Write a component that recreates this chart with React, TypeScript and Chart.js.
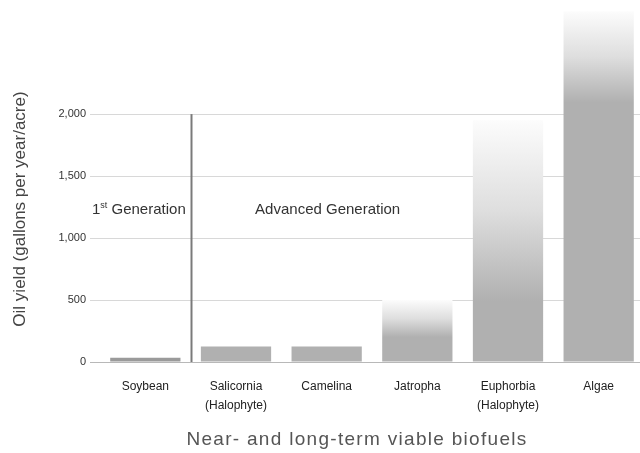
import React, { useEffect, useRef } from 'react';
import { Chart, registerables } from 'chart.js';

Chart.register(...registerables);

// ---- data ----
const categories: string[][] = [
  ['Soybean'],
  ['Salicornia', '(Halophyte)'],
  ['Camelina'],
  ['Jatropha'],
  ['Euphorbia', '(Halophyte)'],
  ['Algae'],
];
const oilYield = [35, 125, 125, 500, 1950, 2830];
const yTicks = [0, 500, 1000, 1500, 2000];
const yMax = 2835;
const dividerTopValue = 2000;
const yTitle = 'Oil yield (gallons per year/acre)';
const xTitle = 'Near- and long-term viable biofuels';
const firstGenParts = ['1', 'st', ' Generation'];
const advancedGenLabel = 'Advanced Generation';

// ---- styles ----
const FONT = "'Liberation Sans', Arial, sans-serif";
const barGray = '#b0b0b0';
const soyGray = '#9a9a9a';
const fadeFraction = [0, 0, 0, 0.6, 0.75, 0.26];

const annotationPlugin = {
  id: 'biofuelAnnotations',
  afterDatasetsDraw(chart: any) {
    const { ctx, scales, chartArea } = chart;
    const x = scales.x;
    const y = scales.y;
    ctx.save();
    // divider between 1st generation and advanced
    const xd = Math.round((x.getPixelForTick(0) + x.getPixelForTick(1)) / 2) + 0.5;
    ctx.strokeStyle = '#7a7a7a';
    ctx.lineWidth = 2;
    ctx.beginPath();
    ctx.moveTo(xd, y.getPixelForValue(dividerTopValue));
    ctx.lineTo(xd, y.getPixelForValue(0));
    ctx.stroke();

    // 1st Generation
    ctx.fillStyle = '#333';
    ctx.textBaseline = 'alphabetic';
    ctx.textAlign = 'left';
    let tx = chartArea.left - 8;
    const by = 214;
    ctx.font = `15px ${FONT}`;
    ctx.fillText(firstGenParts[0], tx, by);
    tx += ctx.measureText(firstGenParts[0]).width;
    ctx.font = `9px ${FONT}`;
    ctx.fillText(firstGenParts[1], tx, by - 6);
    tx += ctx.measureText(firstGenParts[1]).width;
    ctx.font = `15px ${FONT}`;
    ctx.fillText(firstGenParts[2], tx, by);

    // Advanced Generation
    ctx.textAlign = 'center';
    ctx.fillText(advancedGenLabel, x.getPixelForTick(2) + 1, by);

    // y title
    ctx.save();
    ctx.translate(20, 209);
    ctx.rotate(-Math.PI / 2);
    ctx.font = `17px ${FONT}`;
    ctx.fillStyle = '#444';
    ctx.textAlign = 'center';
    ctx.textBaseline = 'middle';
    ctx.fillText(yTitle, 0, 0);
    ctx.restore();

    // x title
    ctx.font = `19px ${FONT}`;
    (ctx as any).letterSpacing = '1.3px';
    ctx.fillStyle = '#555';
    ctx.textAlign = 'center';
    ctx.textBaseline = 'middle';
    ctx.fillText(xTitle, 357, 440);
    ctx.restore();
  },
};

export default function App() {
  const canvasRef = useRef<HTMLCanvasElement | null>(null);

  useEffect(() => {
    document.body.style.margin = '0';
    document.body.style.overflow = 'hidden';
    const canvas = canvasRef.current;
    if (!canvas) return;
    const chart = new Chart(canvas, {
      type: 'bar',
      data: {
        labels: categories,
        datasets: [
          {
            data: oilYield,
            barPercentage: 0.775,
            categoryPercentage: 1,
            borderWidth: 0,
            backgroundColor: (c: any) => {
              const i = c.dataIndex;
              const base = i === 0 ? soyGray : barGray;
              const f = fadeFraction[i];
              const ch = c.chart;
              if (!f || !ch.chartArea || !ch.scales || !ch.scales.y) return base;
              const ys = ch.scales.y;
              const top = ys.getPixelForValue(oilYield[i]);
              const bot = ys.getPixelForValue(0);
              const g = ch.ctx.createLinearGradient(0, top, 0, bot);
              g.addColorStop(0, '#fcfcfc');
              g.addColorStop(f * 0.5, '#dedede');
              g.addColorStop(f, base);
              g.addColorStop(1, base);
              return g;
            },
          },
        ],
      },
      options: {
        animation: false,
        responsive: false,
        devicePixelRatio: 1,
        layout: { padding: { top: 0, left: 0, right: 0, bottom: 0 } },
        plugins: {
          legend: { display: false },
          tooltip: { enabled: false },
          title: { display: false },
        },
        scales: {
          x: {
            grid: { display: false, drawTicks: false },
            border: { display: false },
            ticks: {
              padding: 15,
              color: '#222',
              maxRotation: 0,
              autoSkip: false,
              font: { family: FONT, size: 12, lineHeight: 1.6 },
            },
            afterFit: (s: any) => {
              s.height = 91;
            },
          },
          y: {
            min: 0,
            max: yMax,
            border: { display: false },
            afterBuildTicks: (s: any) => {
              s.ticks = yTicks.map((v) => ({ value: v }));
            },
            afterFit: (s: any) => {
              s.width = 100;
            },
            grid: {
              color: (c: any) => (c.tick && c.tick.value === 0 ? '#b8b8b8' : '#d8d8d8'),
              lineWidth: 1,
              tickLength: 10,
            },
            ticks: {
              padding: 4,
              color: '#333',
              font: { family: FONT, size: 11 },
              callback: (v: any) => Number(v).toLocaleString('en-US'),
            },
          },
        },
      },
      plugins: [annotationPlugin],
    });
    return () => chart.destroy();
  }, []);

  return (
    <div style={{ width: 640, height: 453, overflow: 'hidden', position: 'relative', background: '#fff' }}>
      <canvas ref={canvasRef} width={644} height={453} style={{ display: 'block' }} />
    </div>
  );
}
